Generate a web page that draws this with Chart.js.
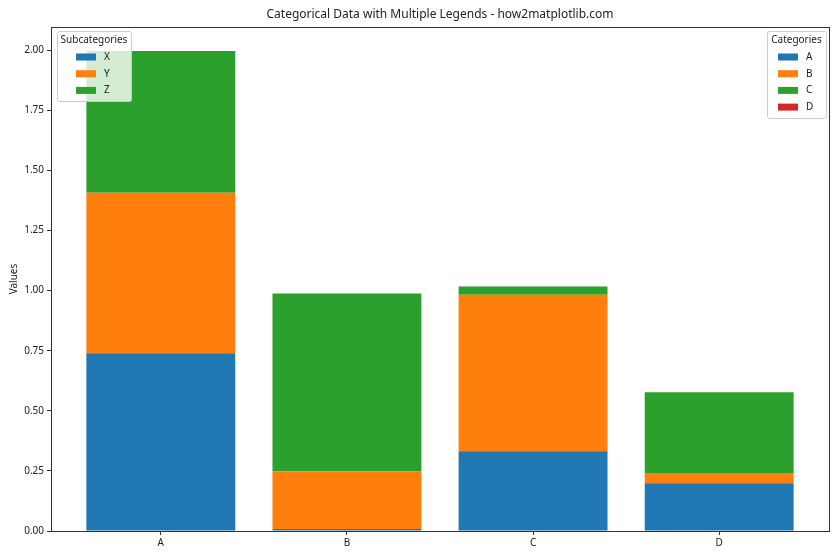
<!DOCTYPE html>
<html>
<head>
<meta charset="utf-8">
<script src="https://cdn.jsdelivr.net/npm/chart.js@4"></script>
<style>
  html, body { margin: 0; padding: 0; background: #fff; }
  #wrap { width: 840px; height: 560px; }
</style>
</head>
<body>
<div id="wrap"><canvas id="jsChart" width="840" height="560"></canvas></div>
<script>
// data
const categories = ['A', 'B', 'C', 'D']
const subcategories = ['X', 'Y', 'Z']
const xValues = [0.739, 0.008, 0.332, 0.199]
const yValues = [0.668, 0.241, 0.651, 0.042]
const zValues = [0.589, 0.739, 0.034, 0.336]
const yTickValues = [0, 0.25, 0.5, 0.75, 1.0, 1.25, 1.5, 1.75, 2.0]

const colors = ['#1f77b4', '#ff7f0e', '#2ca02c', '#d62728']
const fontFamily = '"Noto Sans", "DejaVu Sans", sans-serif'
const titleText = 'Categorical Data with Multiple Legends - how2matplotlib.com'

/**
 * @function toPoints
 * @description 把一組數值轉成 {x, y} 點
*/
function toPoints(values) {
    return values.map((v, i) => ({ x: i, y: v }))
}

/**
 * @function drawLegendBox
 * @description 畫一個 matplotlib 風格的圖例框
*/
function drawLegendBox(ctx, box, title, labels, legendColors) {
    ctx.save()
    ctx.fillStyle = 'rgba(255,255,255,0.8)'
    ctx.strokeStyle = '#cccccc'
    ctx.lineWidth = 1
    ctx.beginPath()
    ctx.roundRect(box.x + 0.5, box.y + 0.5, box.w, box.h, 2)
    ctx.fill()
    ctx.stroke()

    ctx.fillStyle = '#222'
    ctx.font = '10px ' + fontFamily
    ctx.textAlign = 'center'
    ctx.textBaseline = 'middle'
    ctx.fillText(title, box.x + box.w / 2, box.y + 9)

    ctx.textAlign = 'left'
    labels.forEach((label, i) => {
        let cy = box.y + 26 + i * 16.7
        ctx.fillStyle = legendColors[i]
        ctx.fillRect(box.patchX, cy - 3.5, 20, 7)
        ctx.fillStyle = '#222'
        ctx.fillText(label, box.patchX + 28, cy)
    })
    ctx.restore()
}

const framePlugin = {
    id: 'frame',
    afterDraw(chart) {
        let ctx = chart.ctx
        let area = chart.chartArea
        ctx.save()
        ctx.strokeStyle = '#333'
        ctx.lineWidth = 1
        ctx.strokeRect(Math.round(area.left) + 0.5, Math.round(area.top) + 0.5,
            Math.round(area.right - area.left), Math.round(area.bottom - area.top))

        ctx.fillStyle = '#222'
        ctx.font = '12px ' + fontFamily
        ctx.textAlign = 'center'
        ctx.textBaseline = 'middle'
        ctx.fillText(titleText, (area.left + area.right) / 2, 15)
        ctx.restore()

        drawLegendBox(ctx, { x: area.left + 6, y: area.top + 4, w: 74, h: 70, patchX: area.left + 25 },
            'Subcategories', subcategories, colors)
        drawLegendBox(ctx, { x: area.right - 62, y: area.top + 4, w: 59, h: 87, patchX: area.right - 51 },
            'Categories', categories, colors)
    }
}

let element = document.getElementById('jsChart')

new Chart(element, {
    type: 'bar',
    data: {
        datasets: [
            { label: 'X', data: toPoints(xValues), backgroundColor: colors[0] },
            { label: 'Y', data: toPoints(yValues), backgroundColor: colors[1] },
            { label: 'Z', data: toPoints(zValues), backgroundColor: colors[2] }
        ]
    },
    options: {
        responsive: false,
        animation: false,
        layout: { padding: { top: 27, right: 11, bottom: 0, left: 0 } },
        datasets: {
            bar: { categoryPercentage: 1.0, barPercentage: 0.8, borderWidth: 0 }
        },
        plugins: {
            legend: { display: false },
            tooltip: { enabled: false }
        },
        scales: {
            x: {
                type: 'linear',
                stacked: true,
                offset: false,
                min: -0.59,
                max: 3.59,
                afterBuildTicks: (scale) => { scale.ticks = categories.map((c, i) => ({ value: i })) },
                afterFit: (scale) => { scale.height = 29 },
                ticks: {
                    callback: (v) => categories[v],
                    color: '#222',
                    font: { family: fontFamily, size: 10 },
                    padding: 2,
                    maxRotation: 0
                },
                grid: { offset: false, drawOnChartArea: false, drawTicks: true, tickLength: 4, color: '#333' },
                border: { display: true, color: '#333' }
            },
            y: {
                stacked: true,
                min: 0,
                max: 2.096,
                afterBuildTicks: (scale) => { scale.ticks = yTickValues.map(v => ({ value: v })) },
                afterFit: (scale) => { scale.width = 51 },
                ticks: {
                    callback: (v) => v.toFixed(2),
                    color: '#222',
                    font: { family: fontFamily, size: 10 },
                    padding: 3
                },
                title: {
                    display: true,
                    text: 'Values',
                    color: '#222',
                    font: { family: fontFamily, size: 10 },
                    padding: { top: 8, bottom: 0 }
                },
                grid: { drawOnChartArea: false, drawTicks: true, tickLength: 4, color: '#333' },
                border: { display: true, color: '#333' }
            }
        }
    },
    plugins: [framePlugin]
})
</script>
</body>
</html>
